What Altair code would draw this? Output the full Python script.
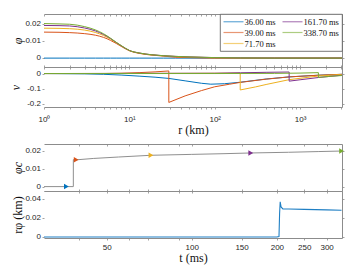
import altair as alt
import pandas as pd

# ---------------- series / colours ----------------
series_names = ["36.00 ms", "39.00 ms", "71.70 ms", "161.70 ms", "338.70 ms"]
series_colors = ["#0072BD", "#D95319", "#EDB120", "#7E2F8E", "#77AC30"]

# ---------------- panel 1 : phi(r) ----------------
r_phi = [1, 1.5, 2, 3, 4, 5, 6, 7, 8, 10, 13, 18, 25, 35, 50, 100, 200, 500, 3100]
phi_36 = [0, 0, 0, 0, 0, 0, 0, 0, 0, 0, 0, 0, 0, 0, 0, 0, 0, 0, 0]
phi_39 = [0.0152, 0.0151, 0.0149, 0.0143, 0.0134, 0.0121, 0.0104, 0.0086, 0.0069, 0.0043,
          0.0028, 0.0018, 0.0012, 0.0005, 0.0003, 0, 0, 0, 0]
phi_72 = [0.0175, 0.0174, 0.0172, 0.0164, 0.0150, 0.0132, 0.0111, 0.0090, 0.0072, 0.0044,
          0.0029, 0.0019, 0.0013, 0.0009, 0.0006, 0.0002, 0, 0, 0]
phi_162 = [0.0191, 0.0190, 0.0188, 0.0176, 0.0159, 0.0138, 0.0115, 0.0092, 0.0073, 0.0045,
           0.0030, 0.0020, 0.0014, 0.0010, 0.0007, 0.0003, 0.0001, 0, 0]
phi_339 = [0.0202, 0.0200, 0.0198, 0.0184, 0.0165, 0.0142, 0.0117, 0.0093, 0.0074, 0.0045,
           0.0030, 0.0020, 0.0014, 0.0010, 0.0007, 0.0003, 0.0001, 0, 0]

# ---------------- panel 2 : v(r) ----------------
r_v36 = [1, 3, 5, 8, 13, 20, 29, 45, 70, 90, 130, 200, 400, 750, 1650, 3100]
v_36 = [0, -0.002, -0.005, -0.010, -0.017, -0.024, -0.032, -0.048, -0.064, -0.070,
        -0.067, -0.057, -0.036, -0.022, -0.011, -0.005]
r_v39 = [1, 5, 8, 13, 20, 29, 29, 45, 70, 100, 150, 200, 400, 750, 1650, 3100]
v_39 = [0, 0, 0.002, 0.006, 0.011, 0.017, -0.190, -0.147, -0.112, -0.087,
        -0.070, -0.058, -0.037, -0.022, -0.011, -0.005]
r_v72 = [1, 30, 100, 199, 199, 300, 400, 750, 1650, 3100]
v_72 = [0, 0.001, 0.002, 0.003, -0.108, -0.088, -0.072, -0.040, -0.016, -0.006]
r_v162 = [1, 100, 200, 400, 745, 745, 1000, 1650, 3100]
v_162 = [0, 0.002, 0.005, 0.008, 0.010, -0.050, -0.041, -0.026, -0.011]
r_v339 = [1, 100, 500, 1000, 1640, 1640, 2200, 3100]
v_339 = [0, 0, 0.001, 0.003, 0.006, -0.026, -0.019, -0.013]

# ---------------- panel 3 : phi_c(t) ----------------
t_phic = [30, 36, 38.1, 38.1, 39, 45, 55, 71.7, 100, 130, 161.7, 220, 280, 338.7]
phic = [0, 0, 0, 0.0153, 0.0152, 0.0160, 0.0168, 0.0178, 0.0183, 0.0187, 0.0191,
        0.0195, 0.0199, 0.0202]
t_marks = [36, 39, 71.7, 161.7, 338.7]
phic_marks = [0, 0.0152, 0.0178, 0.0191, 0.0202]

# ---------------- panel 4 : r*phi(t) ----------------
t_rphi = [30, 100, 200, 203.5, 204.5, 205.5, 207, 210, 220, 250, 300, 338.7]
rphi = [0, 0, 0, 0.0005, 0.025, 0.0375, 0.0320, 0.0300, 0.0298, 0.0294, 0.0289, 0.0285]

# ---------------- axis ticks / tick labels ----------------
r_ticks = [1, 2, 3, 4, 5, 6, 7, 8, 9, 10, 20, 30, 40, 50, 60, 70, 80, 90,
           100, 200, 300, 400, 500, 600, 700, 800, 900, 1000, 2000, 3000]
t_ticks = [40, 50, 60, 70, 90, 100, 150, 200, 250, 300]
t_labels = [50, 100, 150, 200, 250, 300]
y1_ticks, y1_labels = [0, 0.01, 0.02], ["0", "0.01", "0.02"]
y2_ticks, y2_labels = [-0.2, -0.1, 0], ["-0.2", "-0.1", "0"]
y3_ticks, y3_labels = [0, 0.01, 0.02], ["0", "0.01", "0.02"]
y4_ticks, y4_labels = [0, 0.02, 0.04], ["0", "0.02", "0.04"]


def make_df(pairs):
    rows = []
    for s, xs, ys in pairs:
        for k, (x, y) in enumerate(zip(xs, ys)):
            rows.append({"series": s, "x": x, "y": y, "k": k})
    return pd.DataFrame(rows)


df_phi = make_df([(series_names[0], r_phi, phi_36), (series_names[1], r_phi, phi_39),
                  (series_names[2], r_phi, phi_72), (series_names[3], r_phi, phi_162),
                  (series_names[4], r_phi, phi_339)])
df_v = make_df([(series_names[0], r_v36, v_36), (series_names[1], r_v39, v_39),
                (series_names[2], r_v72, v_72), (series_names[3], r_v162, v_162),
                (series_names[4], r_v339, v_339)])
df_phic = make_df([("c", t_phic, phic)])
df_marks = make_df([(s, [t], [p]) for s, t, p in zip(series_names, t_marks, phic_marks)])
df_rphi = make_df([("rphi", t_rphi, rphi)])

W = 298
H1, H2, H3, H4 = 53, 40, 47, 47
AXC = "#8c8c8c"
SERIF = "Liberation Serif"
SANS = "Liberation Sans"

r_scale = alt.Scale(type="log", domain=[1, 3100], nice=False)
t_scale = alt.Scale(type="log", domain=[30, 340], nice=False)
ys1 = alt.Scale(domain=[-0.0052, 0.0258], nice=False, zero=False)
ys2 = alt.Scale(domain=[-0.22, 0.043], nice=False, zero=False)
ys3 = alt.Scale(domain=[-0.0025, 0.0242], nice=False, zero=False)
ys4 = alt.Scale(domain=[-0.001, 0.049], nice=False, zero=False)

color_scale = alt.Scale(domain=series_names, range=series_colors)

r_label_expr = ("datum.value == 1 ? '10⁰' : datum.value == 10 ? '10¹' : "
                "datum.value == 100 ? '10²' : datum.value == 1000 ? '10³' : ''")
t_label_expr = ("indexof([50, 100, 150, 200, 250, 300], datum.value) >= 0 ? "
                "format(datum.value, 'd') : ''")


def y_left(values, title, title_pad, italic=True):
    return alt.Axis(values=values, title=title, labels=False, tickSize=2, domain=False,
                    grid=False, minExtent=0, maxExtent=2, titlePadding=title_pad,
                    titleFont=SERIF, titleFontSize=12, titleFontWeight="normal",
                    titleFontStyle="italic" if italic else "normal")


def y_text(vals, texts, ys):
    df = pd.DataFrame({"v": vals, "t": texts})
    return alt.Chart(df).mark_text(align="right", baseline="middle", dx=-3, fontSize=8,
                                   font=SANS, color="#262626").encode(
        x=alt.value(0),
        y=alt.Y("v:Q", scale=ys, axis=None),
        text="t:N",
    )


def x_main(values, labels, label_expr=None, title=None, label_padding=3):
    kw = dict(values=values, orient="bottom", tickSize=2, labels=labels,
              title=title, domain=True, grid=False)
    if labels:
        kw.update(labelExpr=label_expr, labelPadding=label_padding, labelAngle=0,
                  labelFlush=False, labelOverlap=False, titlePadding=1,
                  titleFont=SERIF, titleFontSize=12, titleFontWeight="normal")
    return alt.Axis(**kw)


def frame(df, xs, ys, xvals, yvals, x_orient, x_offset):
    return alt.Chart(df).mark_point(opacity=0, size=1).encode(
        x=alt.X("x:Q", scale=xs,
                axis=alt.Axis(orient=x_orient, offset=x_offset, values=xvals, labels=False,
                              title=None, tickSize=2, grid=False, domain=True,
                              minExtent=0, maxExtent=0)),
        y=alt.Y("y:Q", scale=ys,
                axis=alt.Axis(orient="right", values=yvals, labels=False,
                              title=None, tickSize=2, grid=False, domain=True,
                              minExtent=0, maxExtent=0)),
    )


legend = alt.Legend(title=None, orient="top-right", offset=0, columns=2,
                    fillColor="white", strokeColor="#555", padding=2.5,
                    symbolType="M-1,0H4", symbolSize=64, symbolStrokeWidth=1.2,
                    symbolOpacity=0.6, labelFont=SERIF, labelFontSize=8.5,
                    labelColor="#111", labelOffset=12, rowPadding=1, columnPadding=3)

# ---- panel 1
p1_lines = alt.Chart(df_phi).mark_line(strokeWidth=1, interpolate="monotone").encode(
    x=alt.X("x:Q", scale=r_scale, axis=x_main(r_ticks, False)),
    y=alt.Y("y:Q", scale=ys1, axis=y_left(y1_ticks, "φ", 17.5)),
    color=alt.Color("series:N", scale=color_scale, legend=legend),
    order=alt.Order("k:Q"),
)
p1 = alt.layer(p1_lines, y_text(y1_ticks, y1_labels, ys1),
               frame(df_phi, r_scale, ys1, r_ticks, y1_ticks, "bottom", -H1)
               ).resolve_axis(x="independent", y="independent").properties(width=W, height=H1)

# ---- panel 2
p2_lines = alt.Chart(df_v).mark_line(strokeWidth=1).encode(
    x=alt.X("x:Q", scale=r_scale,
            axis=x_main(r_ticks, True, r_label_expr, "r  (km)", label_padding=6)),
    y=alt.Y("y:Q", scale=ys2, axis=y_left(y2_ticks, "v", 19.5)),
    color=alt.Color("series:N", scale=color_scale, legend=None),
    order=alt.Order("k:Q"),
)
p2 = alt.layer(p2_lines, y_text(y2_ticks, y2_labels, ys2),
               frame(df_v, r_scale, ys2, r_ticks, y2_ticks, "top", 0)
               ).resolve_axis(x="independent", y="independent").properties(width=W, height=H2)

# ---- panel 3
p3_line = alt.Chart(df_phic).mark_line(strokeWidth=1, color="#8f8f8f").encode(
    x=alt.X("x:Q", scale=t_scale, axis=x_main(t_ticks, False)),
    y=alt.Y("y:Q", scale=ys3, axis=y_left(y3_ticks, "φc", 17.5)),
    order=alt.Order("k:Q"),
)
p3_marks = alt.Chart(df_marks).mark_point(shape="triangle-right", filled=True, size=30,
                                          opacity=1).encode(
    x=alt.X("x:Q", scale=t_scale, axis=None),
    y=alt.Y("y:Q", scale=ys3, axis=None),
    color=alt.Color("series:N", scale=color_scale, legend=None),
)
p3 = alt.layer(p3_line, p3_marks, y_text(y3_ticks, y3_labels, ys3),
               frame(df_phic, t_scale, ys3, t_ticks, y3_ticks, "bottom", -H3)
               ).resolve_axis(x="independent", y="independent").properties(width=W, height=H3)

# ---- panel 4
p4_line = alt.Chart(df_rphi).mark_line(strokeWidth=1.1, color="#1f7fc4").encode(
    x=alt.X("x:Q", scale=t_scale,
            axis=x_main(t_ticks, True, t_label_expr, "t  (ms)", label_padding=3)),
    y=alt.Y("y:Q", scale=ys4, axis=y_left(y4_ticks, "rφ (km)", 17.5, italic=False)),
    order=alt.Order("k:Q"),
)
p4 = alt.layer(p4_line, y_text(y4_ticks, y4_labels, ys4),
               frame(df_rphi, t_scale, ys4, t_ticks, y4_ticks, "top", 0)
               ).resolve_axis(x="independent", y="independent").properties(width=W, height=H4)

top = alt.vconcat(p1, p2, spacing=0, bounds="flush").resolve_scale(color="independent")
bottom = alt.vconcat(p3, p4, spacing=0, bounds="flush").resolve_scale(color="independent")

chart = alt.vconcat(top, bottom, spacing=8).resolve_scale(color="independent").properties(
    padding={"left": 1, "top": 5, "right": 3, "bottom": 2}
).configure_view(stroke=None).configure_axis(
    domainColor=AXC, tickColor=AXC, domainWidth=1, tickWidth=0.8,
    labelColor="#262626", titleColor="#111", labelFont=SANS, labelFontSize=8,
    titleFont=SERIF, titleFontSize=12, titleFontWeight="normal",
).configure_legend(strokeWidth=0.8)

chart.save("out.html", embed_options={"renderer": "svg", "actions": False})
